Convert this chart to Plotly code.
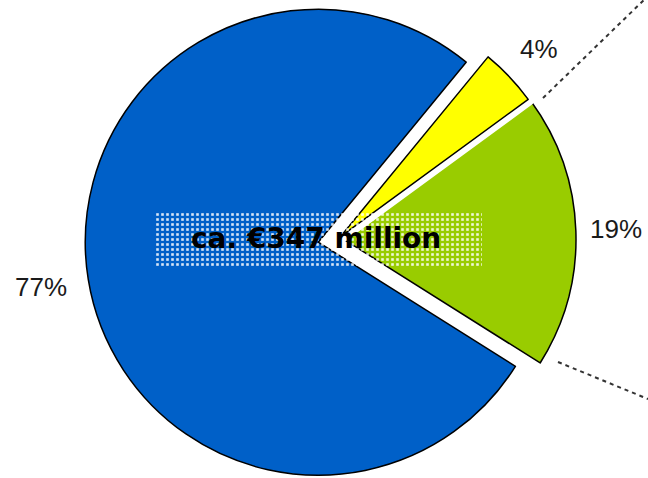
import base64
import math
import plotly.graph_objects as go

# ---- data ----
labels = ["Segment A", "Segment B", "Segment C"]   # yellow, green, blue
values = [4, 19, 77]
colors = ["#FFFF00", "#99CC00", "#0060C8"]
center_label = "ca. €347 million"

# ---- geometry / style ----
W, H = 648, 478
ROT = 39.4            # start of first slice, degrees clockwise from 12 o'clock
R = 233               # pie radius (px)
CX, CY = 338, 239     # pie centre (px)
pull_px = [3, 5, 20]  # explosion distance per slice (px)
label_off = [40, 40, 48]
halo_w = [13, 8, 0]   # white separation stroke width per slice
TRANSP = "rgba(0,0,0,0)"

total = sum(values)
cum = 0.0
centers, mids = [], []
for v, p in zip(values, pull_px):
    mid = math.radians(ROT + 360.0 * (cum + v / 2.0) / total)
    mids.append(mid)
    centers.append((CX + p * math.sin(mid), CY - p * math.cos(mid)))
    cum += v


def clamp(a):
    return max(0.0, min(1.0, a))


def domain(cx, cy):
    return dict(x=[clamp((cx - R) / W), clamp((cx + R) / W)],
                y=[clamp(1 - (cy + R) / H), clamp(1 - (cy - R) / H)])


def slice_trace(idx, fill, line_color, line_width):
    cx, cy = centers[idx]
    n = len(values)
    return go.Pie(
        labels=labels, values=values, sort=False, direction="clockwise",
        rotation=ROT, domain=domain(cx, cy),
        marker=dict(
            colors=[fill if i == idx else TRANSP for i in range(n)],
            line=dict(color=[line_color if i == idx else TRANSP for i in range(n)],
                      width=[line_width if i == idx else 0 for i in range(n)]),
        ),
        textinfo="none", hoverinfo="skip", showlegend=False,
    )


traces = [
    slice_trace(2, colors[2], "#000000", 1.5),            # blue
    slice_trace(1, "#FFFFFF", "#FFFFFF", halo_w[1]),      # green halo
    slice_trace(1, colors[1], "#000000", 1.5),            # green
    slice_trace(0, "#FFFFFF", "#FFFFFF", halo_w[0]),      # yellow halo
    slice_trace(0, colors[0], "#000000", 1.5),            # yellow
]

fig = go.Figure(data=traces)

# percentage labels outside each slice
for v, (cx, cy), mid, off in zip(values, centers, mids, label_off):
    sx, sy = math.sin(mid), -math.cos(mid)
    px_, py_ = cx + (R + off) * sx, cy + (R + off) * sy
    fig.add_annotation(text="%d%%" % round(100.0 * v / total), xref="paper", yref="paper",
                       x=px_ / W, y=1 - py_ / H, xanchor="center", yanchor="middle",
                       showarrow=False,
                       font=dict(family="Liberation Sans, Arial, sans-serif", size=26, color="#1a1a1a"))

# dotted backdrop behind the centre label
bx0, by0, bw, bh = 155, 212, 327, 55
svg = ("<svg xmlns='http://www.w3.org/2000/svg' width='%d' height='%d'>"
       "<defs><pattern id='p' width='5' height='5' patternUnits='userSpaceOnUse'>"
       "<rect x='1.2' y='1.2' width='2.6' height='2.6' fill='white' fill-opacity='0.85'/>"
       "</pattern></defs><rect width='%d' height='%d' fill='url(#p)'/></svg>") % (bw, bh, bw, bh)
src = "data:image/svg+xml;base64," + base64.b64encode(svg.encode()).decode()
fig.add_layout_image(dict(source=src, xref="paper", yref="paper",
                          x=bx0 / W, y=1 - by0 / H, sizex=bw / W, sizey=bh / H,
                          xanchor="left", yanchor="top", sizing="stretch", layer="above"))

fig.add_annotation(text="<b>" + center_label + "</b>", xref="paper", yref="paper",
                   x=316 / W, y=1 - 238 / H, showarrow=False,
                   font=dict(family="DejaVu Sans, Verdana, sans-serif", size=28, color="#000000"))

# dashed connector lines leading off to the right
for (x0, y0, x1, y1) in [(543, 98, 648, -4), (558, 362, 648, 399)]:
    fig.add_shape(type="line", xref="paper", yref="paper",
                  x0=x0 / W, y0=1 - y0 / H, x1=x1 / W, y1=1 - y1 / H,
                  line=dict(color="#333333", width=2, dash="4px,4px"), layer="above")

fig.update_layout(width=W, height=H, margin=dict(l=0, r=0, t=0, b=0),
                  paper_bgcolor="white", plot_bgcolor="white", showlegend=False)

fig.write_html("out.html", config={"displayModeBar": False},
               post_script="document.body.style.margin='0';")
